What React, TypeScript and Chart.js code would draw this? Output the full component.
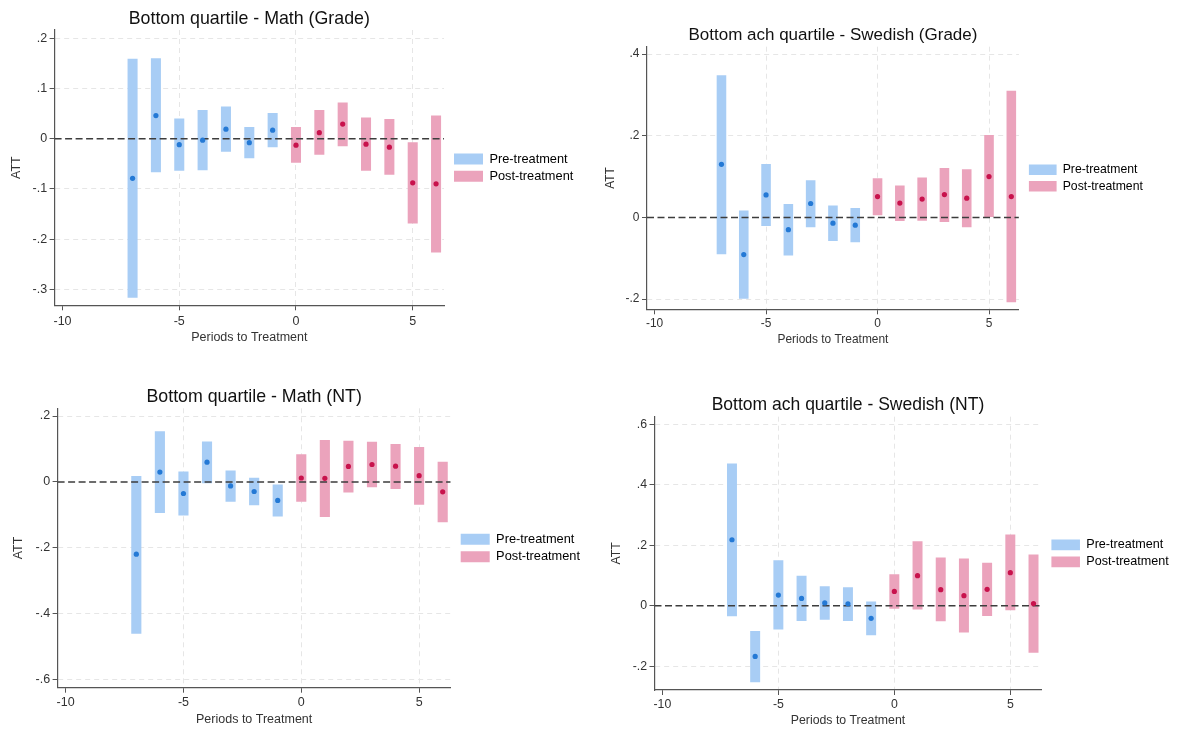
import React, { useEffect, useRef } from 'react';
import { Chart, registerables } from 'chart.js';

Chart.register(...registerables);
Chart.defaults.font.family = '"Liberation Sans", Arial, sans-serif';
Chart.defaults.color = '#333';

// ---------- data ----------
const prePeriods = [-7, -6, -5, -4, -3, -2, -1];
const postPeriods = [0, 1, 2, 3, 4, 5, 6];
const xTicks = [-10, -5, 0, 5];
const legendLabels = ['Pre-treatment', 'Post-treatment'];

// Bottom quartile - Math (Grade)
const mathGradePreLow = [-0.317, -0.067, -0.064, -0.063, -0.026, -0.039, -0.017];
const mathGradePreHigh = [0.159, 0.16, 0.04, 0.057, 0.064, 0.023, 0.051];
const mathGradePreAtt = [-0.079, 0.046, -0.012, -0.003, 0.019, -0.008, 0.017];
const mathGradePostLow = [-0.048, -0.032, -0.015, -0.064, -0.072, -0.169, -0.227];
const mathGradePostHigh = [0.023, 0.057, 0.072, 0.042, 0.039, -0.007, 0.046];
const mathGradePostAtt = [-0.013, 0.012, 0.029, -0.011, -0.017, -0.088, -0.09];
const mathGradeYTicks = [0.2, 0.1, 0, -0.1, -0.2, -0.3];

// Bottom ach quartile - Swedish (Grade)
const swedGradePreLow = [-0.09, -0.199, -0.021, -0.093, -0.024, -0.058, -0.061];
const swedGradePreHigh = [0.348, 0.017, 0.131, 0.033, 0.091, 0.029, 0.023];
const swedGradePreAtt = [0.13, -0.091, 0.055, -0.03, 0.034, -0.014, -0.019];
const swedGradePostLow = [0.005, -0.009, -0.008, -0.011, -0.024, 0.0, -0.208];
const swedGradePostHigh = [0.096, 0.078, 0.098, 0.121, 0.118, 0.202, 0.31];
const swedGradePostAtt = [0.051, 0.035, 0.045, 0.056, 0.047, 0.1, 0.051];
const swedGradeYTicks = [0.4, 0.2, 0, -0.2];

// Bottom quartile - Math (NT)
const mathNTPreLow = [-0.46, -0.094, -0.102, -0.004, -0.06, -0.071, -0.105];
const mathNTPreHigh = [0.018, 0.154, 0.032, 0.123, 0.035, 0.013, -0.008];
const mathNTPreAtt = [-0.219, 0.03, -0.035, 0.06, -0.012, -0.029, -0.056];
const mathNTPostLow = [-0.06, -0.106, -0.032, -0.016, -0.021, -0.069, -0.122];
const mathNTPostHigh = [0.084, 0.127, 0.125, 0.122, 0.115, 0.106, 0.061];
const mathNTPostAtt = [0.012, 0.011, 0.047, 0.053, 0.048, 0.019, -0.03];
const mathNTYTicks = [0.2, 0, -0.2, -0.4, -0.6];

// Bottom ach quartile - Swedish (NT)
const swedNTPreLow = [-0.035, -0.253, -0.079, -0.051, -0.047, -0.051, -0.098];
const swedNTPreHigh = [0.47, -0.084, 0.15, 0.099, 0.064, 0.061, 0.014];
const swedNTPreAtt = [0.218, -0.168, 0.035, 0.024, 0.009, 0.006, -0.042];
const swedNTPostLow = [-0.01, -0.013, -0.052, -0.089, -0.034, -0.015, -0.156];
const swedNTPostHigh = [0.104, 0.213, 0.159, 0.156, 0.142, 0.235, 0.169];
const swedNTPostAtt = [0.047, 0.099, 0.053, 0.033, 0.054, 0.109, 0.007];
const swedNTYTicks = [0.6, 0.4, 0.2, 0, -0.2];

// ---------- styles ----------
const PRE_BAR = '#a8cdf5';
const POST_BAR = '#eba3bc';
const PRE_DOT = '#2479d5';
const POST_DOT = '#c8124c';
const AXIS = '#555';
const GRID = '#e6e6e6';
const X_MIN = -10.34;
const X_MAX = 6.34;

type Panel = {
  title: string;
  preLow: number[]; preHigh: number[]; preAtt: number[];
  postLow: number[]; postHigh: number[]; postAtt: number[];
  yTicks: number[]; yMin: number; yMax: number;
  left: number; top: number; width: number; s: number;
  area: { l: number; t: number; r: number; b: number };
  titleY: number; tickY: number; xTitleY: number; yTitleX: number;
};

const panels: Panel[] = [
  {
    title: 'Bottom quartile - Math (Grade)',
    preLow: mathGradePreLow, preHigh: mathGradePreHigh, preAtt: mathGradePreAtt,
    postLow: mathGradePostLow, postHigh: mathGradePostHigh, postAtt: mathGradePostAtt,
    yTicks: mathGradeYTicks, yMin: -0.332, yMax: 0.2165,
    left: 0, top: 0, width: 590, s: 1,
    area: { l: 54.6, t: 30, r: 444, b: 305.3 },
    titleY: 19, tickY: 321.7, xTitleY: 337.3, yTitleX: 17,
  },
  {
    title: 'Bottom ach quartile - Swedish (Grade)',
    preLow: swedGradePreLow, preHigh: swedGradePreHigh, preAtt: swedGradePreAtt,
    postLow: swedGradePostLow, postHigh: swedGradePostHigh, postAtt: swedGradePostAtt,
    yTicks: swedGradeYTicks, yMin: -0.225, yMax: 0.418,
    left: 590, top: 0, width: 587, s: 0.955,
    area: { l: 647, t: 46.7, r: 1018.9, b: 309.3 },
    titleY: 35, tickY: 324, xTitleY: 340, yTitleX: 610.6,
  },
  {
    title: 'Bottom quartile - Math (NT)',
    preLow: mathNTPreLow, preHigh: mathNTPreHigh, preAtt: mathNTPreAtt,
    postLow: mathNTPostLow, postHigh: mathNTPostHigh, postAtt: mathNTPostAtt,
    yTicks: mathNTYTicks, yMin: -0.624, yMax: 0.2234,
    left: 0, top: 365, width: 590, s: 1,
    area: { l: 57.6, t: 408.3, r: 450.7, b: 687.7 },
    titleY: 396.7, tickY: 702.7, xTitleY: 719.3, yTitleX: 18.8,
  },
  {
    title: 'Bottom ach quartile - Swedish (NT)',
    preLow: swedNTPreLow, preHigh: swedNTPreHigh, preAtt: swedNTPreAtt,
    postLow: swedNTPostLow, postHigh: swedNTPostHigh, postAtt: swedNTPostAtt,
    yTicks: swedNTYTicks, yMin: -0.279, yMax: 0.625,
    left: 590, top: 365, width: 587, s: 0.985,
    area: { l: 654.5, t: 416.7, r: 1041.4, b: 690 },
    titleY: 405, tickY: 705, xTitleY: 720.7, yTitleX: 616.3,
  },
];

const fmtY = (v: number) => {
  const r = Math.round(v * 10) / 10;
  if (r === 0) return '0';
  return (r < 0 ? '-' : '') + String(Math.abs(r)).replace(/^0/, '');
};

const legendShift = {
  id: 'legendShift',
  afterLayout(chart: any, _args: any, opts: any) {
    const l = chart.legend;
    if (l && opts && opts.dx) {
      l.left += opts.dx;
      l.right += opts.dx;
    }
  },
};

function PanelChart({ p }: { p: Panel }) {
  const ref = useRef<HTMLCanvasElement>(null);
  const s = p.s;
  const titleSize = 17.8 * s;
  const legendSize = 12.8 * s;
  const axisSize = 12.5 * s;
  const tLH = titleSize * 1.2;
  const aLH = axisSize * 1.2;
  const height = Math.round(p.xTitleY + aLH / 2 - p.top);

  useEffect(() => {
    const canvas = ref.current;
    if (!canvas) return;
    const W = p.width;
    const relL = p.area.l - p.left;
    const relT = p.area.t - p.top;
    const relR = p.area.r - p.left;
    const relB = p.area.b - p.top;
    const xAxisH = height - relB;
    const titlePadTop = p.titleY - p.top - tLH / 2;
    const titlePadBottom = Math.max(0, relT - titlePadTop - tLH);
    const tickLen = 5;
    const xTickPad = p.tickY - p.area.b - aLH / 2 - tickLen;
    const yTitlePad = p.yTitleX - p.left - aLH / 2;

    const boxW = 29 * s;
    const boxH = 11 * s;
    const legPad = 4.5;
    const m = document.createElement('canvas').getContext('2d')!;
    m.font = `normal ${legendSize}px "Liberation Sans", Arial, sans-serif`;
    const tw = Math.max(...legendLabels.map((t) => m.measureText(t).width));
    const legendW = legPad + boxW + legendSize / 2 + tw + 10;
    const padR = Math.max(0, W - relR - legendW);

    const bars = (periods: number[], lo: number[], hi: number[]) =>
      periods.map((x, i) => ({ x, y: [lo[i], hi[i]] }));
    const pts = (periods: number[], v: number[]) => periods.map((x, i) => ({ x, y: v[i] }));

    const chart = new Chart(canvas, {
      type: 'bar',
      data: {
        datasets: [
          {
            type: 'bar', label: legendLabels[0], data: bars(prePeriods, p.preLow, p.preHigh) as any,
            backgroundColor: PRE_BAR, borderWidth: 0, grouped: false,
            barPercentage: 0.43, categoryPercentage: 1, order: 3,
          } as any,
          {
            type: 'bar', label: legendLabels[1], data: bars(postPeriods, p.postLow, p.postHigh) as any,
            backgroundColor: POST_BAR, borderWidth: 0, grouped: false,
            barPercentage: 0.43, categoryPercentage: 1, order: 3,
          } as any,
          {
            type: 'line', label: 'zero', data: [{ x: X_MIN, y: 0 }, { x: X_MAX, y: 0 }],
            borderColor: '#3d3d3d', borderWidth: 1.5, borderDash: [7, 3.5], pointRadius: 0, order: 2,
          } as any,
          {
            type: 'scatter', label: 'pre est', data: pts(prePeriods, p.preAtt),
            pointRadius: 2.6, pointBackgroundColor: PRE_DOT, pointBorderWidth: 0, order: 1,
          } as any,
          {
            type: 'scatter', label: 'post est', data: pts(postPeriods, p.postAtt),
            pointRadius: 2.6, pointBackgroundColor: POST_DOT, pointBorderWidth: 0, order: 1,
          } as any,
        ],
      },
      options: {
        responsive: false,
        animation: false,
        events: [],
        layout: { padding: { left: 0, top: 0, bottom: 0, right: padR } },
        scales: {
          x: {
            type: 'linear', min: X_MIN, max: X_MAX, offset: false,
            afterBuildTicks: (sc: any) => { sc.ticks = xTicks.map((v) => ({ value: v })); },
            afterFit: (sc: any) => { sc.height = xAxisH; },
            ticks: { font: { size: axisSize }, color: '#333', padding: xTickPad, maxRotation: 0, callback: (v: any) => String(v) },
            grid: {
              offset: false, drawTicks: true, tickLength: tickLen, tickColor: AXIS, tickWidth: 1,
              color: (c: any) => (c.tick && c.tick.value === -10 ? 'rgba(0,0,0,0)' : GRID),
              lineWidth: 1,
            },
            border: { display: true, color: AXIS, width: 1.2, dash: [5, 4] },
            title: {
              display: true, text: 'Periods to Treatment', color: '#333',
              font: { size: axisSize }, padding: { top: 0, bottom: 0 },
            },
          },
          y: {
            type: 'linear', min: p.yMin, max: p.yMax,
            afterBuildTicks: (sc: any) => { sc.ticks = p.yTicks.map((v) => ({ value: v })); },
            afterFit: (sc: any) => { sc.width = relL; },
            ticks: { font: { size: axisSize }, color: '#333', padding: 2.5, callback: (v: any) => fmtY(Number(v)) },
            grid: {
              drawTicks: true, tickLength: tickLen, tickColor: AXIS, tickWidth: 1,
              color: (c: any) => (c.tick && Math.abs(c.tick.value) < 1e-9 ? 'rgba(0,0,0,0)' : GRID),
              lineWidth: 1,
            },
            border: { display: true, color: AXIS, width: 1.2, dash: [5, 4] },
            title: {
              display: true, text: 'ATT', color: '#333',
              font: { size: axisSize }, padding: { top: yTitlePad, bottom: 0 },
            },
          },
        },
        plugins: {
          title: {
            display: true, text: p.title, fullSize: false, color: '#111',
            font: { size: titleSize, weight: 'normal' },
            padding: { top: titlePadTop, bottom: titlePadBottom },
          },
          legend: {
            display: true, position: 'right', fullSize: false, align: 'center',
            labels: {
              boxWidth: boxW, boxHeight: boxH, padding: legPad, color: '#222',
              font: { size: legendSize },
              generateLabels: () => [
                { text: legendLabels[0], fillStyle: PRE_BAR, strokeStyle: PRE_BAR, lineWidth: 0, hidden: false, datasetIndex: 0 },
                { text: legendLabels[1], fillStyle: POST_BAR, strokeStyle: POST_BAR, lineWidth: 0, hidden: false, datasetIndex: 1 },
              ],
            },
          },
          tooltip: { enabled: false },
          legendShift: { dx: 10 - legPad },
        } as any,
      },
      plugins: [legendShift as any],
    });
    return () => chart.destroy();
  }, [p]);

  return (
    <canvas
      ref={ref}
      width={p.width}
      height={height}
      style={{ position: 'absolute', left: p.left, top: p.top, width: p.width, height }}
    />
  );
}

export default function App() {
  return (
    <div style={{ position: 'absolute', left: 0, top: 0, width: 1177, height: 731, background: '#fff', overflow: 'hidden' }}>
      {panels.map((p, i) => (
        <PanelChart key={i} p={p} />
      ))}
    </div>
  );
}
